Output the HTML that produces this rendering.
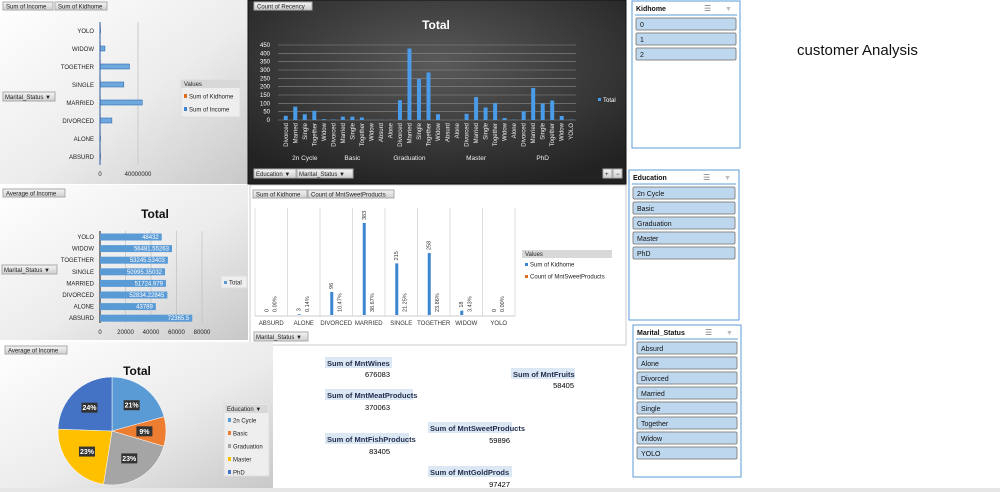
<!DOCTYPE html>
<html><head><meta charset="utf-8">
<style>
body{margin:0;width:1000px;height:492px;overflow:hidden;background:#fff;font-family:"Liberation Sans",sans-serif;}
svg{display:block}
text{font-family:"Liberation Sans",sans-serif}
</style></head>
<body>
<svg id="s" width="1000" height="492" viewBox="0 0 1000 492">
<defs>
<linearGradient id="lg" x1="0" y1="0" x2="1" y2="1"><stop offset="0" stop-color="#ffffff"/><stop offset="0.55" stop-color="#ececec"/><stop offset="1" stop-color="#c8c8c8"/></linearGradient>
<radialGradient id="dg" cx="0.5" cy="0.35" r="0.7"><stop offset="0" stop-color="#5a5a5a"/><stop offset="1" stop-color="#222"/></radialGradient>
<linearGradient id="btn" x1="0" y1="0" x2="0" y2="1"><stop offset="0" stop-color="#f4f4f4"/><stop offset="1" stop-color="#cfcfcf"/></linearGradient>
</defs>
<!-- panels -->
<rect x="0" y="0" width="248" height="184" fill="url(#lg)"/>
<rect x="248" y="0" width="378" height="184" fill="url(#dg)" stroke="#111"/>
<rect x="0" y="185" width="248" height="155" fill="url(#lg)"/>
<rect x="250" y="185" width="376" height="160" fill="#fff" stroke="#ccc"/>
<rect x="0" y="342" width="273" height="146" fill="url(#lg)"/>
<rect x="0" y="488" width="1000" height="4" fill="#e6e6e6"/>

<!-- field buttons -->
<g font-size="6" fill="#222">
<rect x="3" y="2" width="50" height="8" fill="url(#btn)" stroke="#aaa"/><text x="6" y="8.5">Sum of Income</text>
<rect x="55" y="2" width="52" height="8" fill="url(#btn)" stroke="#aaa"/><text x="58" y="8.5">Sum of Kidhome</text>
<rect x="3" y="92" width="52" height="9" fill="url(#btn)" stroke="#aaa"/><text x="5" y="99">Marital_Status ▼</text>
<rect x="254" y="2" width="58" height="8" fill="url(#btn)" stroke="#aaa"/><text x="257" y="8.5">Count of Recency</text>
<rect x="254" y="169" width="42" height="9" fill="url(#btn)" stroke="#aaa"/><text x="256" y="176">Education  ▼</text>
<rect x="297" y="169" width="56" height="9" fill="url(#btn)" stroke="#aaa"/><text x="299" y="176">Marital_Status  ▼</text>
<rect x="603" y="169" width="9" height="9" fill="url(#btn)" stroke="#aaa"/><text x="605" y="176">+</text>
<rect x="613" y="169" width="9" height="9" fill="url(#btn)" stroke="#aaa"/><text x="616" y="176">−</text>
<rect x="3" y="189" width="62" height="8" fill="url(#btn)" stroke="#aaa"/><text x="6" y="195.5">Average of Income</text>
<rect x="2" y="265" width="55" height="9" fill="url(#btn)" stroke="#aaa"/><text x="4" y="272">Marital_Status ▼</text>
<rect x="253" y="190" width="54" height="8" fill="url(#btn)" stroke="#aaa"/><text x="256" y="196.5">Sum of Kidhome</text>
<rect x="308" y="190" width="86" height="8" fill="url(#btn)" stroke="#aaa"/><text x="311" y="196.5">Count of MntSweetProducts</text>
<rect x="254" y="332" width="54" height="9" fill="url(#btn)" stroke="#aaa"/><text x="256" y="339">Marital_Status  ▼</text>
<rect x="5" y="346" width="62" height="8" fill="url(#btn)" stroke="#aaa"/><text x="8" y="352.5">Average of Income</text>
</g>

<!-- titles -->
<text x="436" y="29" font-size="12" font-weight="bold" fill="#fff" text-anchor="middle">Total</text>
<text x="155" y="218" font-size="12" font-weight="bold" fill="#111" text-anchor="middle">Total</text>
<text x="137" y="375" font-size="12" font-weight="bold" fill="#111" text-anchor="middle">Total</text>

<!-- legends -->
<g font-size="6" fill="#222">
<rect x="181" y="80" width="59" height="37" fill="#eee" stroke="#ddd"/>
<rect x="181" y="80" width="59" height="8" fill="#d8d8d8"/><text x="184" y="86">Values</text>
<rect x="184" y="94" width="3" height="4" fill="#e06c1c"/><text x="189" y="98.5">Sum of Kidhome</text>
<rect x="184" y="107" width="3" height="4" fill="#3c85d0"/><text x="189" y="111.5">Sum of Income</text>
<rect x="598" y="98" width="3" height="3" fill="#4a9be8"/><text x="603" y="102" fill="#fff">Total</text>
<rect x="221" y="276" width="26" height="12" fill="#eee" stroke="#ddd"/>
<rect x="224" y="281" width="3" height="3" fill="#5b9bd5"/><text x="229" y="284.5">Total</text>
<rect x="522" y="250" width="90" height="28" fill="#fff"/>
<rect x="522" y="250" width="90" height="8" fill="#d8d8d8"/><text x="525" y="256">Values</text>
<rect x="525" y="263" width="3" height="3" fill="#3c85d0"/><text x="530" y="266.5">Sum of Kidhome</text>
<rect x="525" y="275" width="3" height="3" fill="#e06c1c"/><text x="530" y="278.5">Count of MntSweetProducts</text>
<rect x="224" y="404" width="45" height="72" fill="#eee" stroke="#ddd"/>
<rect x="225" y="405" width="43" height="8" fill="#d8d8d8"/><text x="227" y="411">Education   ▼</text>
</g>

<!-- KPIs -->
<g font-size="7.5" font-weight="bold" fill="#1f2d4d">
<rect x="325" y="357" width="67" height="11" fill="#dbe7f3"/><text x="327" y="366">Sum of MntWines</text>
<text x="390" y="377" text-anchor="end" font-weight="normal" fill="#000">676083</text>
<rect x="511" y="368" width="64" height="11" fill="#dbe7f3"/><text x="513" y="377">Sum of MntFruits</text>
<text x="574" y="388" text-anchor="end" font-weight="normal" fill="#000">58405</text>
<rect x="325" y="389" width="88" height="11" fill="#dbe7f3"/><text x="327" y="398">Sum of MntMeatProducts</text>
<text x="390" y="410" text-anchor="end" font-weight="normal" fill="#000">370063</text>
<rect x="428" y="422" width="84" height="11" fill="#dbe7f3"/><text x="430" y="431">Sum of MntSweetProducts</text>
<text x="510" y="443" text-anchor="end" font-weight="normal" fill="#000">59896</text>
<rect x="325" y="433" width="84" height="11" fill="#dbe7f3"/><text x="327" y="442">Sum of MntFishProducts</text>
<text x="390" y="454" text-anchor="end" font-weight="normal" fill="#000">83405</text>
<rect x="428" y="466" width="84" height="11" fill="#dbe7f3"/><text x="430" y="475">Sum of MntGoldProds</text>
<text x="510" y="487" text-anchor="end" font-weight="normal" fill="#000">97427</text>
</g>

<text x="797" y="55" font-size="15" fill="#111">customer Analysis</text>
<g id="slicers"></g>
<g id="charts"></g>
</svg>
<script>
// ---- data ----
const p1Cats=['YOLO','WIDOW','TOGETHER','SINGLE','MARRIED','DIVORCED','ALONE','ABSURD'];
const p1Income=[0.5e6,5.2e6,31e6,25e6,44.5e6,12.5e6,0.1e6,0.15e6];
const p1Kid=[0,18,258,215,383,96,3,0];
const p2Groups=['2n Cycle','Basic','Graduation','Master','PhD'];
const p2Cats=[['Divorced','Married','Single','Together','Widow'],['Divorced','Married','Single','Together','Widow'],['Absurd','Alone','Divorced','Married','Single','Together','Widow'],['Absurd','Alone','Divorced','Married','Single','Together','Widow'],['Alone','Divorced','Married','Single','Together','Widow','YOLO']];
const p2Vals=[[25,80,35,55,5],[3,20,20,15,1],[1,1,119,429,246,285,35],[1,1,37,138,75,100,12],[2,52,192,98,117,24,2]];
const p2Ticks=[0,50,100,150,200,250,300,350,400,450];
const p3Cats=['YOLO','WIDOW','TOGETHER','SINGLE','MARRIED','DIVORCED','ALONE','ABSURD'];
const p3Vals=[48432,56481.55263,53245.53403,50995.35032,51724.979,52834.22845,43789,72365.5];
const p3Labels=['48432','56481.55263','53245.53403','50995.35032','51724.979','52834.22845','43789','72365.5'];
const p3Ticks=[0,20000,40000,60000,80000];
const p4Cats=['ABSURD','ALONE','DIVORCED','MARRIED','SINGLE','TOGETHER','WIDOW','YOLO'];
const p4Kid=[0,3,96,383,215,258,18,0];
const p4Pct=['0.00%','0.14%','10.47%','38.67%','21.25%','23.86%','3.43%','0.00%'];
const pieCats=['2n Cycle','Basic','Graduation','Master','PhD'];
const pieVals=[47633,20306,52720,52917,56145];
const pieColors=['#5b9bd5','#ed7d31','#a5a5a5','#ffc000','#4472c4'];
const slicerKid=['0','1','2'];
const slicerEdu=['2n Cycle','Basic','Graduation','Master','PhD'];
const slicerMar=['Absurd','Alone','Divorced','Married','Single','Together','Widow','YOLO'];

const NS='http://www.w3.org/2000/svg';
const G=document.getElementById('charts');
function mk(tag,a,parent){const e=document.createElementNS(NS,tag);for(const k in a)e.setAttribute(k,a[k]);(parent||G).appendChild(e);return e;}
function tx(x,y,s,a,parent){const e=mk('text',Object.assign({x:x,y:y},a),parent);e.textContent=s;return e;}

// ---- panel 1 ----
{const x0=100,sx=v=>x0+v/40e6*38,y0=31,step=18;
 let g=mk('line',{x1:sx(40e6),x2:sx(40e6),y1:22,y2:165,stroke:'#ccc'});
 
 
 p1Cats.forEach((c,i)=>{const y=y0+i*step;
  let t=tx(94,y+2,c,{'font-size':6,'text-anchor':'end',fill:'#222'});
  
  
  let b=mk('rect',{x:x0,y:y-3,width:Math.max(0.5,sx(p1Income[i])-x0),height:5,fill:'#6fa8dc',stroke:'#2f6fb5','stroke-width':0.6});
  
  
  let k=mk('rect',{x:x0,y:y-7,width:Math.max(0.6,p1Kid[i]/40e6*38),height:4,fill:'#e06c1c'});
  
  
 });
 let ax=mk('line',{x1:x0,x2:x0,y1:22,y2:165,stroke:'#2c5aa0','stroke-width':1});
 
 
 let a=tx(x0,176,'0',{'font-size':6,'text-anchor':'middle',fill:'#222'});
 
 
 let b=tx(sx(40e6),176,'40000000',{'font-size':6,'text-anchor':'middle',fill:'#222'});
 
 
}
// ---- panel 2 ----
{const xL=281,xR=576,yB=120,sy=v=>yB-v/450*75;
 let n=0;p2Vals.forEach(a=>n+=a.length);const w=(xR-xL)/n;
 p2Ticks.forEach(t=>{let l=mk('line',{x1:xL-3,x2:xR,y1:sy(t),y2:sy(t),stroke:'#8a8a8a','stroke-width':0.6});
  
  
  let s=tx(270,sy(t)+2,String(t),{'font-size':6,'text-anchor':'end',fill:'#fff'});
  
  });
 let i=0;
 p2Groups.forEach((gname,gi)=>{const start=i;
  p2Cats[gi].forEach((c,ci)=>{const cx=xL+(i+0.5)*w,v=p2Vals[gi][ci];
   let r=mk('rect',{x:cx-2,y:sy(v),width:4,height:yB-sy(v),fill:'#4a9be8'});
   
   
   let t=tx(cx+2,123,c,{'font-size':6,'text-anchor':'end',fill:'#eee',transform:'rotate(-90 '+(cx+2)+' 123)'});
   
   
   i++;});
  const mid=xL+(start+i)/2*w;
  let gl=tx(mid,160,gname,{'font-size':6.5,'text-anchor':'middle',fill:'#eee'});
  
  
 });
}
// ---- panel 3 ----
{const x0=100,sx=v=>x0+v/80000*102,y0=237,step=11.6;
 p3Ticks.forEach(t=>{let l=mk('line',{x1:sx(t),x2:sx(t),y1:231,y2:323,stroke:t?'#bbb':'#111','stroke-width':t?0.6:1});
  
  
  let s=tx(sx(t),334,String(t),{'font-size':6,'text-anchor':'middle',fill:'#222'});
  
  });
 p3Cats.forEach((c,i)=>{const y=y0+i*step;
  let t=tx(94,y+2,c,{'font-size':6,'text-anchor':'end',fill:'#222'});
  
  
  let b=mk('rect',{x:x0,y:y-3.5,width:sx(p3Vals[i])-x0,height:7,fill:'#5b9bd5'});
  
  
  let v=tx(sx(p3Vals[i])-3,y+2,p3Labels[i],{'font-size':6,'text-anchor':'end',fill:'#fff'});
  
  });
}
// ---- panel 4 ----
{const xL=255,cw=32.5,yB=315,sy=v=>yB-v/383*92;
 p4Cats.forEach((c,i)=>{const x=xL+i*cw,cx=x+cw/2;
  let l=mk('line',{x1:x,x2:x,y1:208,y2:316,stroke:'#ddd'});
  
  
  let b=mk('rect',{x:cx-6,y:sy(p4Kid[i]),width:3,height:yB-sy(p4Kid[i]),fill:'#3c85d0'});
  
  
  const ly=sy(p4Kid[i])-3;
  let v=tx(cx-3,ly,String(p4Kid[i]),{'font-size':5.5,fill:'#333',transform:'rotate(-90 '+(cx-3)+' '+ly+')'});
  
  
  let p=tx(cx+5,312,p4Pct[i],{'font-size':5.5,fill:'#333',transform:'rotate(-90 '+(cx+5)+' 312)'});
  
  
  let t=tx(cx,325,c,{'font-size':6,'text-anchor':'middle',fill:'#333'});
  
  });
 let l=mk('line',{x1:xL+8*cw,x2:xL+8*cw,y1:208,y2:316,stroke:'#ddd'});
 
 
 let ax=mk('line',{x1:xL,x2:xL+8*cw,y1:316,y2:316,stroke:'#ccc'});
 
 
}
// ---- pie ----
{const cx=112,cy=431,r=54;const tot=pieVals.reduce((a,b)=>a+b,0);let a0=-Math.PI/2;
 pieVals.forEach((v,i)=>{const a1=a0+v/tot*2*Math.PI;
  const x0=cx+r*Math.cos(a0),y0=cy+r*Math.sin(a0),x1=cx+r*Math.cos(a1),y1=cy+r*Math.sin(a1);
  let s=mk('path',{d:`M${cx},${cy}L${x0},${y0}A${r},${r} 0 ${a1-a0>Math.PI?1:0} 1 ${x1},${y1}Z`,fill:pieColors[i],stroke:'#fff','stroke-width':0.5});
  
  
  const am=(a0+a1)/2,lx=cx+r*0.6*Math.cos(am),ly=cy+r*0.6*Math.sin(am);
  let bg=mk('rect',{x:lx-8,y:ly-5,width:16,height:10,fill:'#333'});
  
  
  let t=tx(lx,ly+2.5,Math.round(v/tot*100)+'%',{'font-size':7,'font-weight':'bold','text-anchor':'middle',fill:'#fff'});
  
  
  let lk=mk('rect',{x:228,y:418+i*13,width:3,height:4,fill:pieColors[i]});
  
  
  let lt=tx(233,422.5+i*13,pieCats[i],{'font-size':6,fill:'#222'});
  
  
  a0=a1;});
}
// ---- slicers ----
function slicer(x,y,w,h,title,items,name){
 let box=mk('rect',{x:x,y:y,width:w,height:h,fill:'#fff',stroke:'#5b9bd5'});
 
 
 let t=tx(x+4,y+10,title,{'font-size':7,'font-weight':'bold',fill:'#111'});
 
 
 let ic=tx(x+w-36,y+10,'☰',{'font-size':8,fill:'#777'});
 
 
 let fc=tx(x+w-15,y+10,'▼',{'font-size':7,fill:'#bbb'});
 
 
 let ln=mk('line',{x1:x+3,x2:x+w-3,y1:y+14,y2:y+14,stroke:'#5b9bd5'});
 
 
 items.forEach((it,i)=>{const yy=y+17+i*15;
  let b=mk('rect',{x:x+4,y:yy,width:w-8,height:12,rx:1.5,fill:'#bdd7ee',stroke:'#888'});
  
  
  let l=tx(x+8,yy+9,it,{'font-size':7,fill:'#111'});
  
  });
}
slicer(632,1,108,147,'Kidhome',slicerKid,'kidhome-slicer');
slicer(629,170,110,150,'Education',slicerEdu,'education-slicer');
slicer(633,325,108,152,'Marital_Status',slicerMar,'marital-slicer');
</script>
</body></html>
